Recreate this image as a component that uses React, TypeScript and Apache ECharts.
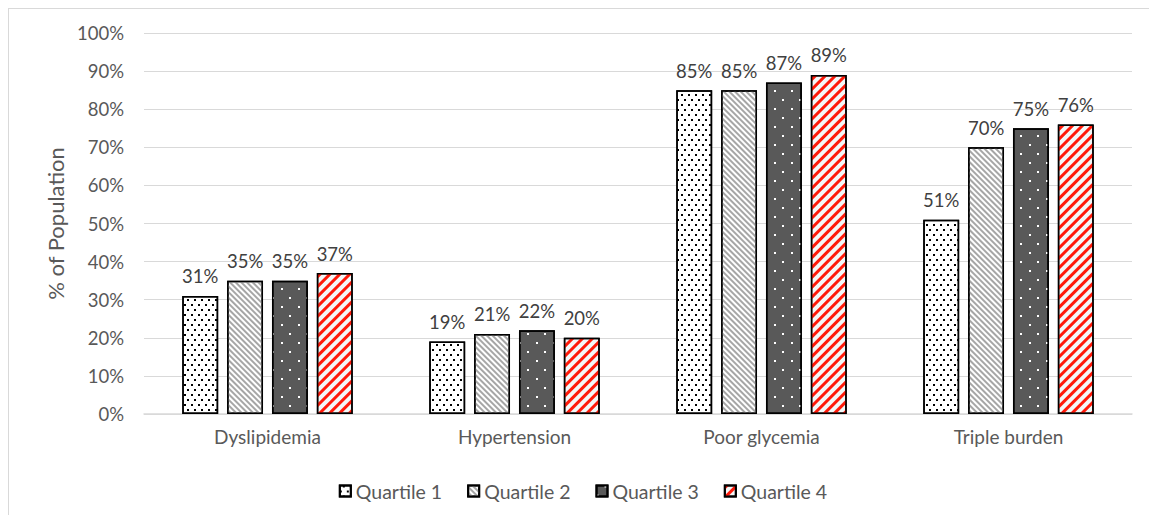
import React, { useEffect, useRef } from "react";
import * as echarts from "echarts";

const categories = ["Dyslipidemia", "Hypertension", "Poor glycemia", "Triple burden"];
const seriesNames = ["Quartile 1", "Quartile 2", "Quartile 3", "Quartile 4"];
const q1 = [31, 19, 85, 51];
const q2 = [35, 21, 85, 70];
const q3 = [35, 22, 87, 75];
const q4 = [37, 20, 89, 76];
const yTicks = [0, 10, 20, 30, 40, 50, 60, 70, 80, 90, 100];

const FONT = "Lato, 'Open Sans', sans-serif";

const styles = [
  {
    color: "#ffffff",
    decal: {
      symbol: "rect",
      symbolSize: 1,
      color: "#000000",
      dashArrayX: [[1.6, 4.4], [0, 3, 1.6, 1.4]],
      dashArrayY: [1.6, 2.4],
    },
  },
  {
    color: "#ffffff",
    decal: {
      symbol: "rect",
      symbolSize: 1,
      color: "#a6a6a6",
      dashArrayX: [1, 0],
      dashArrayY: [1.3, 1.7],
      rotation: Math.PI / 4,
    },
  },
  {
    color: "#595959",
    decal: {
      symbol: "rect",
      symbolSize: 1,
      color: "#ffffff",
      dashArrayX: [[1.5, 14.5], [0, 8, 1.5, 6.5]],
      dashArrayY: [1.5, 6.5],
    },
  },
  {
    color: "#f3f8f8",
    decal: {
      symbol: "rect",
      symbolSize: 1,
      color: "#ff1a0a",
      dashArrayX: [1, 0],
      dashArrayY: [3, 4],
      rotation: -Math.PI / 4,
    },
  },
];

const allValues = [q1, q2, q3, q4];

export default function App() {
  const ref = useRef<HTMLDivElement>(null);
  useEffect(() => {
    if (!ref.current) return;
    const chart = echarts.init(ref.current, null, { renderer: "svg" });
    chart.setOption({
      animation: false,
      textStyle: { fontFamily: FONT },
      grid: { left: 135, right: 25, top: 24, bottom: 101 },
      legend: {
        bottom: 9,
        left: "center",
        icon: "rect",
        itemWidth: 11,
        itemHeight: 11,
        itemGap: 25,
        textStyle: { fontSize: 19.5, color: "#595959", fontFamily: FONT },
        data: seriesNames,
      },
      xAxis: {
        type: "category",
        data: categories,
        axisTick: { show: false },
        axisLine: { lineStyle: { color: "#d9d9d9", width: 1.5 } },
        axisLabel: { fontSize: 19, color: "#595959", margin: 13, fontFamily: FONT },
      },
      yAxis: {
        type: "value",
        min: 0,
        max: 100,
        interval: 10,
        name: "% of Population",
        nameLocation: "middle",
        nameGap: 76,
        nameTextStyle: { fontSize: 22, color: "#595959", fontFamily: FONT },
        axisLine: { show: false },
        axisTick: { show: false },
        axisLabel: {
          fontSize: 18.5,
          color: "#595959",
          margin: 20,
          fontFamily: FONT,
          formatter: (v: number) => (yTicks.includes(v) ? v + "%" : ""),
        },
        splitLine: { lineStyle: { color: "#d9d9d9", width: 1.2 } },
      },
      series: seriesNames.map((name, i) => ({
        name,
        type: "bar",
        data: allValues[i],
        barGap: "25%",
        barCategoryGap: "31%",
        itemStyle: {
          color: styles[i].color,
          decal: styles[i].decal,
          borderColor: "#000000",
          borderWidth: 1.5,
        },
        label: {
          show: true,
          position: "top",
          distance: 10,
          fontSize: 18.5,
          color: "#404040",
          fontFamily: FONT,
          formatter: (p: any) => p.value + "%",
        },
      })),
    });
    return () => chart.dispose();
  }, []);
  return (
    <div
      style={{
        width: 1149,
        height: 507,
        boxSizing: "border-box",
        borderTop: "1px solid #d9d9d9",
        borderLeft: "1px solid #d9d9d9",
        background: "#ffffff",
      }}
    >
      <div ref={ref} style={{ width: 1148, height: 506 }} />
    </div>
  );
}
